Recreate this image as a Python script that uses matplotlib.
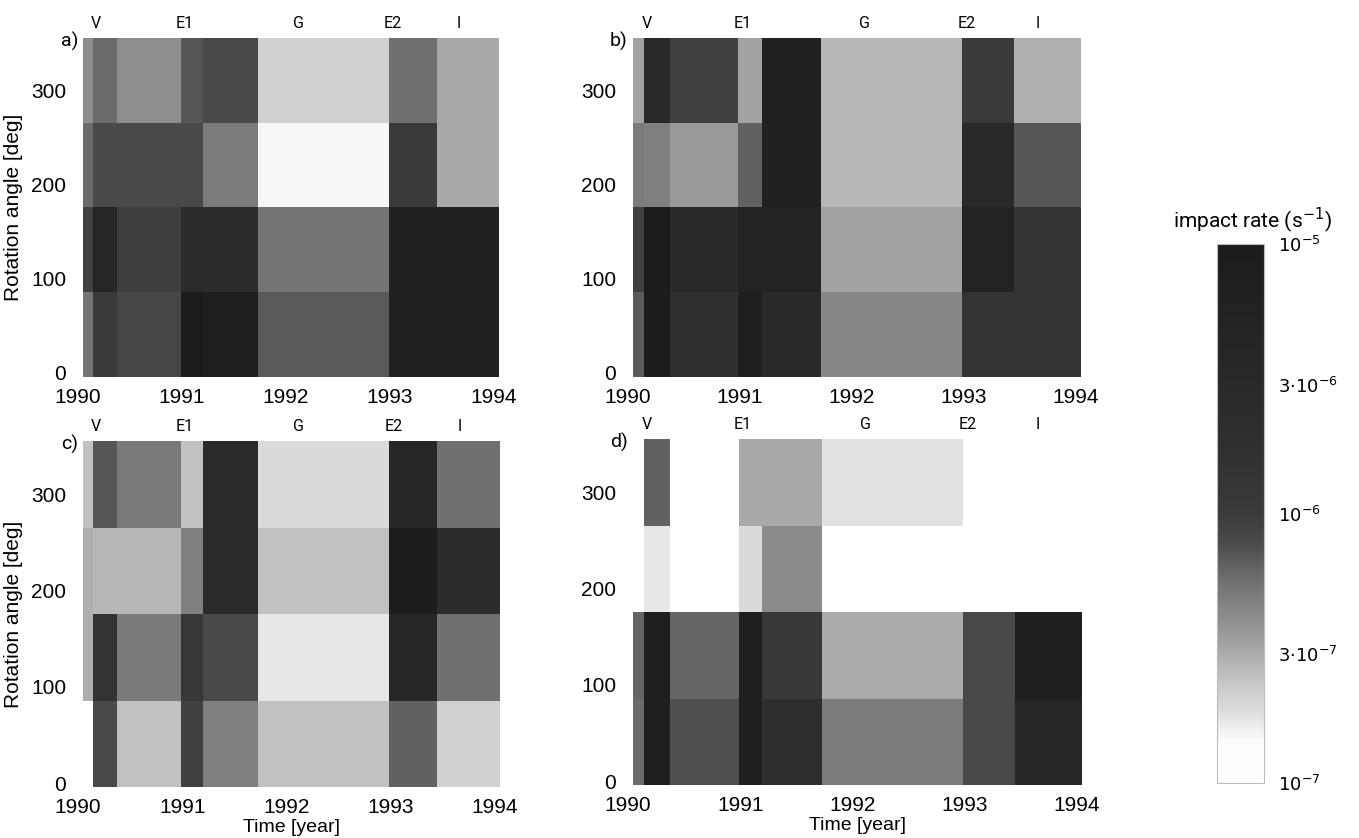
import numpy as np
import matplotlib
matplotlib.use('Agg')
import matplotlib.pyplot as plt
from matplotlib.colors import LinearSegmentedColormap, LogNorm
from matplotlib.transforms import ScaledTranslation

# ---------------- data ----------------
time_edges = [1990.0, 1990.10, 1990.33, 1990.94, 1991.15, 1991.68, 1992.94, 1993.40, 1994.0]
angle_edges = [0, 90, 180, 270, 360]
year_ticks = [1990, 1991, 1992, 1993, 1994]
angle_ticks = [0, 100, 200, 300]
event_names = ['V', 'E1', 'G', 'E2', 'I']
event_times = [1990.12, 1990.98, 1992.07, 1992.98, 1993.61]
panel_names = ['a)', 'b)', 'c)', 'd)']
cbar_ticks = [1e-7, 3e-7, 1e-6, 3e-6, 1e-5]
cbar_labels = [r'$10^{-7}$', r'$3{\cdot}10^{-7}$', r'$10^{-6}$', r'$3{\cdot}10^{-6}$', r'$10^{-5}$']

# impact rates (s^-1); rows: rotation-angle bins 0-90, 90-180, 180-270, 270-360
rate_a = [
    [5.4e-7, 1.0e-6, 8.5e-7, 1.0e-5, 8.0e-6, 6.8e-7, 6.0e-6, 6.0e-6],
    [9.3e-7, 3.8e-6, 9.5e-7, 2.5e-6, 2.5e-6, 5.4e-7, 6.2e-6, 6.2e-6],
    [5.9e-7, 8.0e-7, 8.0e-7, 8.0e-7, 5.0e-7, 1.5e-7, 1.0e-6, 3.1e-7],
    [4.0e-7, 5.9e-7, 4.0e-7, 7.1e-7, 8.0e-7, 2.1e-7, 5.6e-7, 3.1e-7],
]
rate_b = [
    [6.8e-7, 1.0e-5, 1.8e-6, 7.9e-6, 3.0e-6, 4.4e-7, 1.5e-6, 1.5e-6],
    [9.3e-7, 1.0e-5, 3.0e-6, 5.0e-6, 5.0e-6, 3.3e-7, 5.0e-6, 1.5e-6],
    [5.0e-7, 4.8e-7, 3.6e-7, 6.45e-7, 6.2e-6, 2.7e-7, 3.0e-6, 7.1e-7],
    [3.3e-7, 3.0e-6, 9.3e-7, 3.3e-7, 6.2e-6, 2.7e-7, 1.0e-6, 2.9e-7],
]
rate_c = [
    [1.0e-7, 8.0e-7, 2.5e-7, 9.3e-7, 4.8e-7, 2.5e-7, 6.45e-7, 2.1e-7],
    [2.9e-7, 1.5e-6, 5.1e-7, 1.15e-6, 8.0e-7, 1.7e-7, 3.8e-6, 5.6e-7],
    [2.9e-7, 2.7e-7, 2.7e-7, 4.8e-7, 2.5e-6, 2.5e-7, 1.0e-5, 2.5e-6],
    [2.5e-7, 7.1e-7, 5.1e-7, 2.5e-7, 2.5e-6, 1.9e-7, 3.8e-6, 5.6e-7],
]
rate_d = [
    [5.9e-7, 7.9e-6, 7.4e-7, 7.9e-6, 2.1e-6, 5.0e-7, 8.0e-7, 3.8e-6],
    [6.2e-7, 7.9e-6, 6.2e-7, 7.9e-6, 1.15e-6, 3.0e-7, 8.0e-7, 7.9e-6],
    [1.0e-7, 1.7e-7, 1.0e-7, 1.9e-7, 4.2e-7, 1.0e-7, 1.0e-7, 1.0e-7],
    [1.0e-7, 6.45e-7, 1.0e-7, 3.1e-7, 3.1e-7, 1.78e-7, 1.0e-7, 1.0e-7],
]
rates = [rate_a, rate_b, rate_c, rate_d]

# ---------------- style ----------------
plt.rcParams['font.family'] = ['Liberation Sans', 'DejaVu Sans']
thin = dict(family=['Roboto', 'DejaVu Sans'], fontweight='normal', color='black')

cmap_nodes = [(0.0, 1.00), (0.075, 0.99), (0.135, 0.86), (0.185, 0.78), (0.25, 0.65),
              (0.30, 0.56), (0.34, 0.50), (0.395, 0.40), (0.44, 0.30), (0.50, 0.23),
              (0.62, 0.19), (0.74, 0.16), (1.0, 0.11)]
cmap = LinearSegmentedColormap.from_list(
    'impact', [(f, (g, g, g)) for f, g in cmap_nodes], N=256)
cmap.set_under('white')
norm = LogNorm(vmin=1e-7, vmax=1e-5)

fig = plt.figure(figsize=(13.59, 8.38), dpi=100)
W, H = 1359.0, 838.0
boxes = [(83, 38, 499, 377), (633, 38, 1081, 377), (83, 441, 500, 787), (633, 439, 1082, 785)]

for i, (x0, y0, x1, y1) in enumerate(boxes):
    ax = fig.add_axes([x0 / W, 1 - y1 / H, (x1 - x0) / W, (y1 - y0) / H])
    mesh = ax.pcolormesh(time_edges, angle_edges, np.array(rates[i]), cmap=cmap, norm=norm,
                         shading='flat')
    ax.set_xlim(1990, 1994)
    ax.set_ylim(0, 360)
    for s in ax.spines.values():
        s.set_visible(False)
    ax.set_xticks(year_ticks)
    ax.set_xticklabels([str(y) for y in year_ticks])
    ax.set_yticks(angle_ticks)
    ax.set_yticklabels([str(a) for a in angle_ticks])
    ax.tick_params(length=0, labelsize=15, pad=8)
    ax.tick_params(axis='y', pad=12)
    off = ScaledTranslation(-5 / 100, 0, fig.dpi_scale_trans)
    for lab in ax.get_xticklabels():
        lab.set_transform(lab.get_transform() + off)
    offy = ScaledTranslation(0, 4 / 100, fig.dpi_scale_trans)
    for lab in ax.get_yticklabels():
        lab.set_transform(lab.get_transform() + offy)

    sec = ax.secondary_xaxis('top')
    sec.set_xticks(event_times)
    sec.set_xticklabels(event_names, **thin)
    sec.tick_params(length=0, labelsize=11.5, pad=5)
    for s in sec.spines.values():
        s.set_visible(False)

    ax.text(-0.012, 0.99, panel_names[i], transform=ax.transAxes, ha='right', va='center',
            fontsize=14, **thin)
    if i in (0, 2):
        ax.set_ylabel('Rotation angle [deg]', fontsize=15, labelpad=6)
    if i in (2, 3):
        ax.set_xlabel('Time [year]', fontsize=14, labelpad=1)

cax = fig.add_axes([1217 / W, 1 - 783 / H, 47 / W, 539 / H])
cb = fig.colorbar(mesh, cax=cax)
cb.set_ticks(cbar_ticks)
cb.set_ticklabels(cbar_labels)
cb.ax.minorticks_off()
cb.ax.tick_params(length=0, labelsize=13, pad=10)
cb.outline.set_edgecolor('#bbbbbb')
cb.outline.set_linewidth(0.8)
cax.set_title('impact rate (s$^{-1}$)', fontsize=15, pad=12, x=0.75, **thin)

fig.savefig('out.png', dpi=100)
